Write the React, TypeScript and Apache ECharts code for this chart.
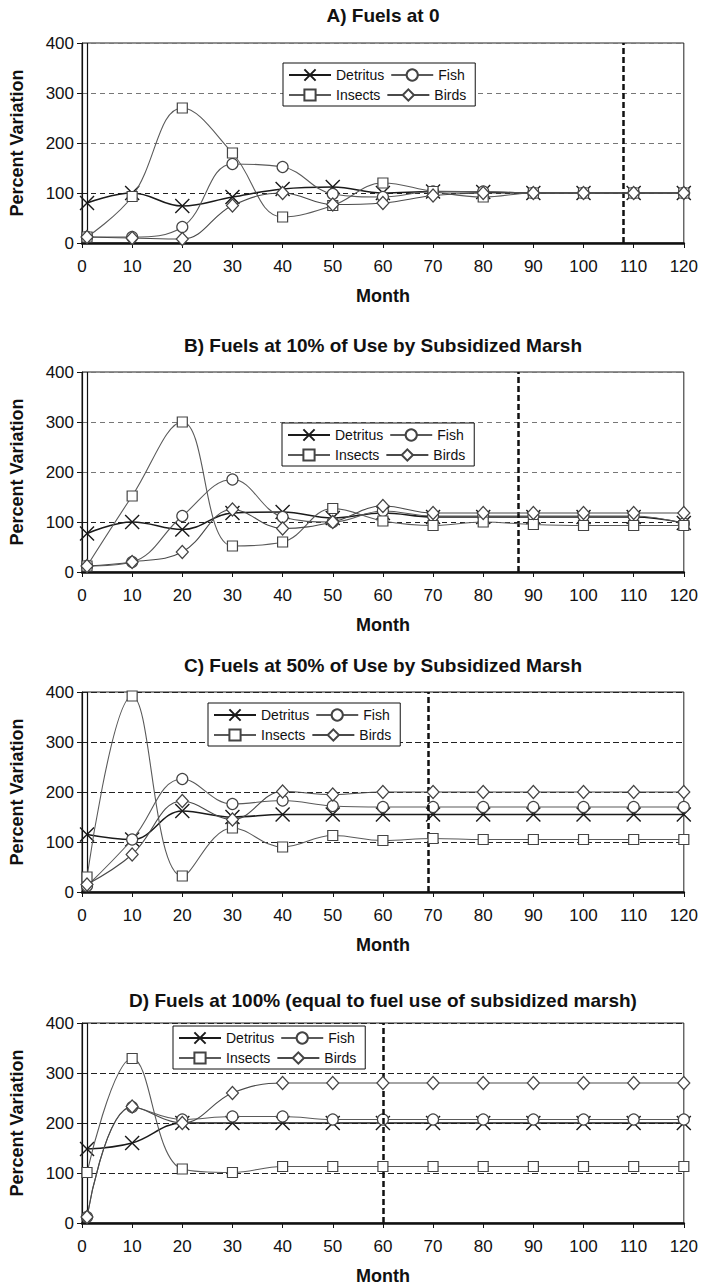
import React, { useEffect, useRef } from "react";
import * as echarts from "echarts";

// ---------- data ----------
const months = [1, 10, 20, 30, 40, 50, 60, 70, 80, 90, 100, 110, 120];
const seriesNames = ["Detritus", "Fish", "Insects", "Birds"];
const panelTitles = [
  "A) Fuels at 0",
  "B) Fuels at 10% of Use by Subsidized Marsh",
  "C) Fuels at 50% of Use by Subsidized Marsh",
  "D) Fuels at 100% (equal to fuel use of subsidized marsh)",
];
const cutMonths = [108, 87, 69, 60];

const aDetritus = [80, 100, 74, 92, 108, 112, 100, 103, 102, 100, 100, 100, 100];
const aFish = [12, 12, 32, 158, 152, 98, 92, 103, 103, 100, 100, 100, 100];
const aInsects = [12, 93, 270, 180, 52, 75, 120, 103, 92, 100, 100, 100, 100];
const aBirds = [12, 10, 8, 75, 100, 77, 80, 95, 100, 100, 100, 100, 100];

const bDetritus = [77, 100, 85, 118, 120, 108, 118, 110, 110, 110, 110, 110, 98];
const bFish = [12, 20, 112, 185, 110, 100, 122, 112, 112, 112, 112, 112, 97];
const bInsects = [12, 152, 300, 52, 60, 127, 102, 93, 100, 95, 93, 93, 93];
const bBirds = [12, 20, 40, 125, 87, 100, 132, 118, 118, 118, 118, 118, 118];

const cDetritus = [115, 105, 162, 150, 155, 155, 155, 155, 155, 155, 155, 155, 155];
const cFish = [12, 105, 226, 176, 183, 172, 170, 170, 170, 170, 170, 170, 170];
const cInsects = [30, 392, 32, 128, 90, 113, 103, 107, 105, 105, 105, 105, 105];
const cBirds = [15, 75, 182, 145, 201, 195, 200, 200, 200, 200, 200, 200, 200];

const dDetritus = [148, 160, 200, 200, 200, 200, 200, 200, 200, 200, 200, 200, 200];
const dFish = [12, 232, 207, 213, 213, 207, 207, 207, 207, 207, 207, 207, 207];
const dInsects = [101, 329, 108, 101, 113, 113, 113, 113, 113, 113, 113, 113, 113];
const dBirds = [12, 233, 200, 260, 280, 280, 280, 280, 280, 280, 280, 280, 280];

const panelData = [
  [aDetritus, aFish, aInsects, aBirds],
  [bDetritus, bFish, bInsects, bBirds],
  [cDetritus, cFish, cInsects, cBirds],
  [dDetritus, dFish, dInsects, dBirds],
];

// ---------- layout ----------
const W = 701;
const H = 1286;
const gridLeft = 82;
const gridRightX = 684;
const gridTops = [43, 372, 692, 1023];
const gridHeight = 200;
const titleYs = [15, 345, 665, 1000];
const legendPos = [
  [283, 63],
  [282, 423],
  [208, 703],
  [173, 1026],
];
const FONT = "'Liberation Sans', Arial, Helvetica, sans-serif";

const seriesStyle: Record<string, any> = {
  Detritus: {
    symbol: "path://M0,0L10,10M10,0L0,10",
    symbolSize: 14,
    line: "#1a1a1a",
    lineWidth: 1.5,
    border: "#1a1a1a",
  },
  Fish: { symbol: "circle", symbolSize: 11, line: "#5a5a5a", lineWidth: 1.1, border: "#444" },
  Insects: { symbol: "rect", symbolSize: 10, line: "#5a5a5a", lineWidth: 1.1, border: "#444" },
  Birds: { symbol: "diamond", symbolSize: [12, 13], line: "#4a4a4a", lineWidth: 1.1, border: "#444" },
};

function buildOption() {
  const grid: any[] = [];
  const xAxis: any[] = [];
  const yAxis: any[] = [];
  const series: any[] = [];
  const legend: any[] = [];
  const graphic: any[] = [];

  panelTitles.forEach((t, i) => {
    grid.push({
      left: gridLeft,
      width: gridRightX - gridLeft,
      top: gridTops[i],
      height: gridHeight,
      show: true,
      borderColor: "#222",
      borderWidth: 1,
      backgroundColor: "transparent",
    });
    xAxis.push({
      gridIndex: i,
      type: "value",
      min: 0,
      max: 120,
      interval: 10,
      name: "Month",
      nameLocation: "middle",
      nameGap: 44,
      nameTextStyle: { fontFamily: FONT, fontWeight: "bold", fontSize: 18, color: "#111" },
      axisLine: { show: true, onZero: false, lineStyle: { color: "#111", width: 2.5 } },
      axisTick: { show: true, length: 5, lineStyle: { color: "#111", width: 1 } },
      axisLabel: { fontFamily: FONT, fontSize: 17, color: "#111", margin: 15 },
      splitLine: { show: false },
    });
    const dark = i >= 2;
    yAxis.push({
      gridIndex: i,
      type: "value",
      min: 0,
      max: 400,
      interval: 100,
      name: "Percent Variation",
      nameLocation: "middle",
      nameGap: 56,
      nameTextStyle: { fontFamily: FONT, fontWeight: "bold", fontSize: 18, color: "#111" },
      axisLine: { show: true, lineStyle: { color: "#111", width: 1.2 } },
      axisTick: { show: true, length: 5, lineStyle: { color: "#111", width: 1 } },
      axisLabel: { fontFamily: FONT, fontSize: 17, color: "#111", margin: 8 },
      splitLine: {
        show: true,
        lineStyle: {
          type: dark ? [6, 3] : [5, 4],
          color: dark ? "#222" : ["#777", "#222", "#777", "#777", "#777"],
          width: 1.2,
        },
      },
    });

    seriesNames.forEach((name, s) => {
      const st = seriesStyle[name];
      const vals = panelData[i][s];
      const ser: any = {
        type: "line",
        name,
        xAxisIndex: i,
        yAxisIndex: i,
        data: months.map((m, k) => [m, vals[k]]),
        smooth: 0.4,
        symbol: st.symbol,
        symbolSize: st.symbolSize,
        showAllSymbol: true,
        lineStyle: { color: st.line, width: st.lineWidth },
        itemStyle: { color: "#fff", borderColor: st.border, borderWidth: name === "Detritus" ? 1.4 : 1.2 },
        emphasis: { disabled: true },
        z: 3 + s,
      };
      if (s === 0) {
        ser.markLine = {
          silent: true,
          symbol: ["none", "none"],
          label: { show: false },
          animation: false,
          data: [
            { xAxis: cutMonths[i], lineStyle: { type: [6, 3], width: 2.5, color: "#111" } },
            { xAxis: 1, lineStyle: { type: "solid", width: 1.2, color: "#111" } },
          ],
        };
      }
      series.push(ser);
    });

    legend.push({
      left: legendPos[i][0],
      top: legendPos[i][1],
      orient: "horizontal",
      width: 192,
      itemWidth: 42,
      itemHeight: 14,
      itemGap: 6,
      padding: [5, 9, 4, 5],
      borderColor: "#111",
      borderWidth: 1,
      backgroundColor: "#fff",
      selectedMode: false,
      textStyle: { fontFamily: FONT, fontSize: 14, color: "#111" },
      data: [
        { name: "Detritus", textStyle: { width: 56 } },
        { name: "Fish" },
        { name: "Insects", textStyle: { width: 56 } },
        { name: "Birds" },
      ],
      z: 10,
    });

    graphic.push({
      type: "text",
      x: (gridLeft + gridRightX) / 2,
      y: titleYs[i],
      style: {
        text: t,
        fontFamily: FONT,
        fontWeight: "bold",
        fontSize: 19,
        fill: "#111",
        textAlign: "center",
        textVerticalAlign: "middle",
      },
    });
  });

  return {
    animation: false,
    backgroundColor: "#fff",
    grid,
    xAxis,
    yAxis,
    series,
    legend,
    graphic,
  };
}

export default function App() {
  const ref = useRef<HTMLDivElement>(null);
  useEffect(() => {
    if (!ref.current) return;
    const chart = echarts.init(ref.current, undefined, { renderer: "svg" });
    chart.setOption(buildOption() as any);
    return () => chart.dispose();
  }, []);
  return (
    <div
      ref={ref}
      style={{ position: "absolute", left: 0, top: 0, width: W, height: H, background: "#fff" }}
    />
  );
}
